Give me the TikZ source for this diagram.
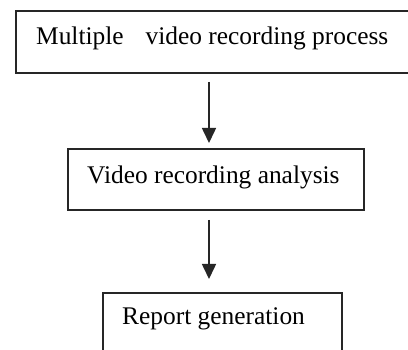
\documentclass[tikz,border=0pt]{standalone}
\usepackage{fontspec}
\setmainfont{Liberation Serif}
\usetikzlibrary{arrows.meta}
\begin{document}
\begin{tikzpicture}[x=1pt,y=-1pt,
  box/.style={draw=black!85,line width=1.6pt,rectangle,inner sep=0pt,anchor=north west},
  lbl/.style={anchor=base west,inner sep=0pt,font=\fontsize{25.4}{30}\selectfont},
  flow/.style={draw=black!85,line width=1.6pt,-{Triangle[width=14pt,length=15pt]}}]
\useasboundingbox (0,0) rectangle (408,350);
\clip (0,0) rectangle (408,350);
\fill[white] (0,0) rectangle (408,350);
\node[box,minimum width=420pt,minimum height=62pt] (b1) at (15,10) {};
\node[box,minimum width=296pt,minimum height=61pt] (b2) at (67,148) {};
\node[box,minimum width=239pt,minimum height=80pt] (b3) at (102,292) {};
\node[lbl] (t1) at (36,45) {Multiple\hspace{22pt}video recording process};
\node[lbl] (t2) at (87,184) {Video recording analysis};
\node[lbl] (t3) at (122,325) {Report generation};
\coordinate (a1s) at (209,82);
\coordinate (a1e) at (209,143);
\coordinate (a2s) at (209,220);
\coordinate (a2e) at (209,279);
\draw[flow] (a1s) -- (a1e);
\draw[flow] (a2s) -- (a2e);
\end{tikzpicture}
\end{document}
